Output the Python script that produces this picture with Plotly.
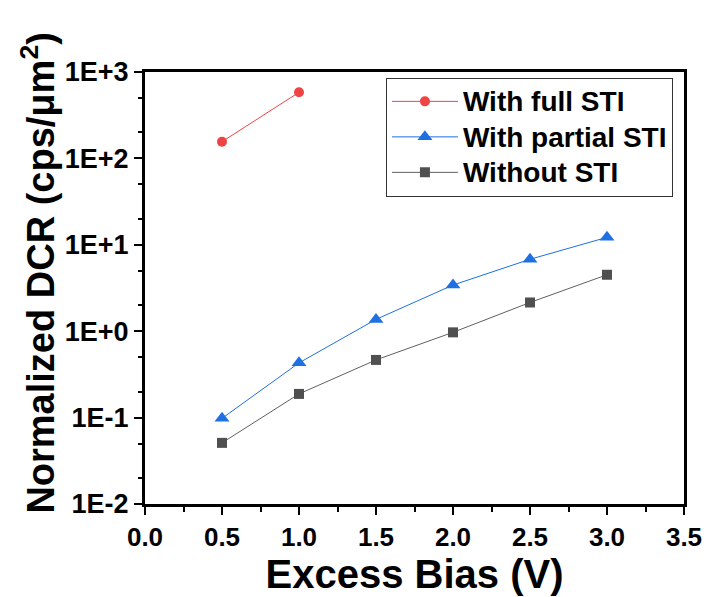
import plotly.graph_objects as go

# Excess bias (V) and normalized dark count rate (cps/um^2)
bias_full = [0.5, 1.0]
dcr_full = [156, 582]

bias_partial = [0.5, 1.0, 1.5, 2.0, 2.5, 3.0]
dcr_partial = [0.098, 0.43, 1.37, 3.42, 6.8, 12.2]

bias_none = [0.5, 1.0, 1.5, 2.0, 2.5, 3.0]
dcr_none = [0.051, 0.188, 0.465, 0.97, 2.15, 4.5]

y_tickvals = [1e-2, 1e-1, 1e0, 1e1, 1e2, 1e3]
y_ticktext = ["1E-2", "1E-1", "1E+0", "1E+1", "1E+2", "1E+3"]
x_tickvals = [0.0, 0.5, 1.0, 1.5, 2.0, 2.5, 3.0, 3.5]
x_ticktext = ["0.0", "0.5", "1.0", "1.5", "2.0", "2.5", "3.0", "3.5"]

FONT = "Liberation Sans, Arial, sans-serif"
RED = "#EE4444"
BLUE = "#1F70E0"
GRAY = "#505050"
GRAY_LINE = "#606060"


def legend_name(text):
    # larger glyphs than the legend row pitch so the rows stay compact
    return f'<span style="font-size:28px">{text}</span>'


fig = go.Figure()
fig.add_trace(go.Scatter(
    x=bias_full, y=dcr_full, name=legend_name("With full STI"), mode="lines+markers",
    line=dict(color=RED, width=1),
    marker=dict(symbol="circle", size=10, color=RED),
))
fig.add_trace(go.Scatter(
    x=bias_partial, y=dcr_partial, name=legend_name("With partial STI"), mode="lines+markers",
    line=dict(color=BLUE, width=1),
    marker=dict(symbol="triangle-up", size=13, color=BLUE),
))
fig.add_trace(go.Scatter(
    x=bias_none, y=dcr_none, name=legend_name("Without STI"), mode="lines+markers",
    line=dict(color=GRAY_LINE, width=1),
    marker=dict(symbol="square", size=10, color=GRAY),
))

fig.update_layout(
    width=708, height=597,
    margin=dict(l=145, r=24, t=72, b=93, autoexpand=False),
    paper_bgcolor="white", plot_bgcolor="white",
    font=dict(family=FONT, color="black"),
    legend=dict(
        x=0.447, y=0.987, xanchor="left", yanchor="top",
        bordercolor="#333333", borderwidth=1, bgcolor="white",
        font=dict(family=FONT, size=25, color="black", weight="bold"),
        itemwidth=66,
    ),
    annotations=[dict(
        text="Normalized DCR (cps/μm<sup>2</sup>)",
        xref="paper", yref="paper", x=-0.199, y=0.535,
        xanchor="center", yanchor="middle", textangle=-90, showarrow=False,
        font=dict(family=FONT, size=38, color="black", weight="bold"),
    )],
)

fig.update_xaxes(
    range=[0, 3.5], tickvals=x_tickvals, ticktext=x_ticktext,
    showline=True, linecolor="black", linewidth=3, mirror=True,
    ticks="outside", ticklen=8, tickwidth=2, tickcolor="black",
    minor=dict(dtick=0.25, ticks="outside", ticklen=5, tickwidth=2, tickcolor="black"),
    showgrid=False, zeroline=False, automargin=False,
    tickfont=dict(family=FONT, size=26, color="black", weight="bold"),
    title=dict(text="Excess Bias (V)", standoff=4,
               font=dict(family=FONT, size=40, color="black", weight="bold")),
)

fig.update_yaxes(
    type="log", range=[-2, 3], tickvals=y_tickvals, ticktext=y_ticktext,
    showline=True, linecolor="black", linewidth=3, mirror=True,
    ticks="outside", ticklen=8, tickwidth=2, tickcolor="black",
    minor=dict(ticks="outside", ticklen=4, tickwidth=2, tickcolor="black", showgrid=False),
    showgrid=False, zeroline=False, automargin=False,
    tickfont=dict(family=FONT, size=27, color="black", weight="bold"),
)

fig.write_html("out.html")
